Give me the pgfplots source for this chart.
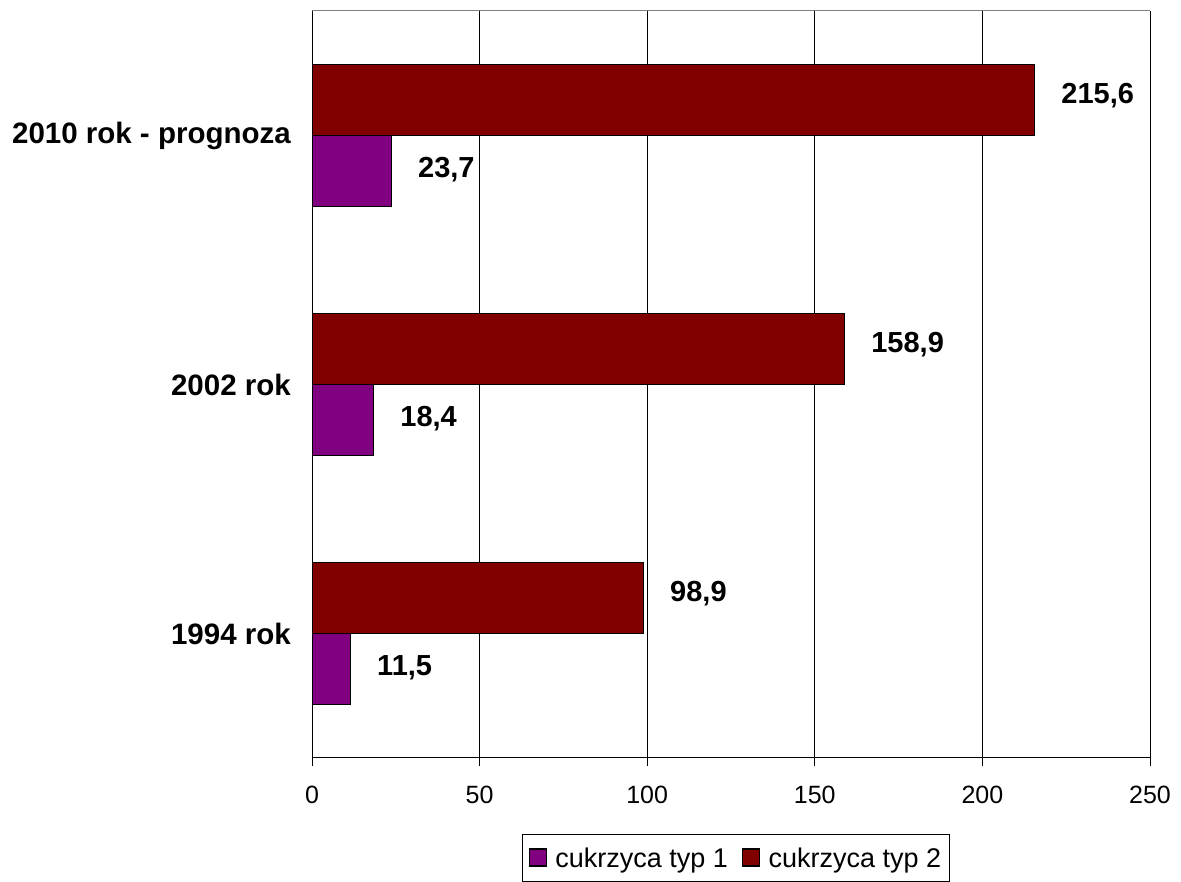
\documentclass[border=0pt]{standalone}
\usepackage{fontspec}
\setmainfont{Liberation Sans}
\usepackage{pgfplots}
\usepackage{pgfplotstable}
\pgfplotsset{compat=1.18}

\definecolor{typone}{HTML}{800080}
\definecolor{typtwo}{HTML}{800000}

% liczba chorych (tys.): pozycja, typ 1, typ 2
\pgfplotstableread{
pos t1 t2
0 11.5 98.9
1 18.4 158.9
2 23.7 215.6
}\cukrzyca

\begin{document}
\begin{tikzpicture}
\path[use as bounding box] (0,0) rectangle (1181bp,882bp);
\begin{axis}[
  at={(312bp,124bp)}, anchor=south west,
  scale only axis, width=838bp, height=747bp,
  xmin=0, xmax=250, ymin=-0.5, ymax=2.5,
  xtick={0,50,...,250},
  ytick={0,1,2},
  yticklabels={1994 rok, 2002 rok, 2010 rok - prognoza},
  xmajorgrids, grid style={black, line width=0.8bp},
  axis x line*=bottom, axis y line*=left,
  axis line style={black, line width=1bp, -},
  tick align=outside,
  major tick length=8bp,
  x tick style={black, line width=0.8bp},
  y tick style={draw=none},
  /pgf/number format/assume math mode=true,
  x tick label style={font=\fontsize{25bp}{30bp}\selectfont, inner sep=0pt, yshift=-20bp},
  y tick label style={font=\bfseries\fontsize{29.5bp}{34bp}\selectfont, inner sep=0pt, xshift=-13bp},
  xbar, bar width=71bp,
  point meta=x,
  nodes near coords={\pgfmathprintnumber[fixed,fixed zerofill,precision=1,use comma]{\pgfplotspointmeta}},
  nodes near coords style={font=\bfseries\fontsize{29bp}{33bp}\selectfont, anchor=west, inner sep=0pt, xshift=26bp},
  legend columns=2,
  legend style={at={(0.506,-0.1018)}, anchor=north, draw=black, line width=1bp,
    font=\fontsize{27bp}{31bp}\selectfont, inner xsep=6bp, inner ysep=11bp,
    /tikz/every even column/.append style={column sep=12bp}},
  legend image code/.code={%
    \path[draw=none, fill=none] (0bp,0bp) -- (24bp,0bp);
    \draw[#1, draw=black, line width=1.2bp] (0bp,-8bp) rectangle (17bp,9bp);},
]
\addplot[fill=typone, draw=black, line width=1.4bp, bar shift=-35.5bp,
  nodes near coords style={yshift=1bp}] table[x=t1, y=pos] {\cukrzyca};
\addlegendentry{cukrzyca typ 1}
\addplot[fill=typtwo, draw=black, line width=1.4bp, bar shift=35.5bp,
  nodes near coords style={yshift=4bp}] table[x=t2, y=pos] {\cukrzyca};
\addlegendentry{cukrzyca typ 2}
\draw[gray, line width=1bp] (rel axis cs:0,1) -- (rel axis cs:1,1);
\end{axis}
\end{tikzpicture}
\end{document}
